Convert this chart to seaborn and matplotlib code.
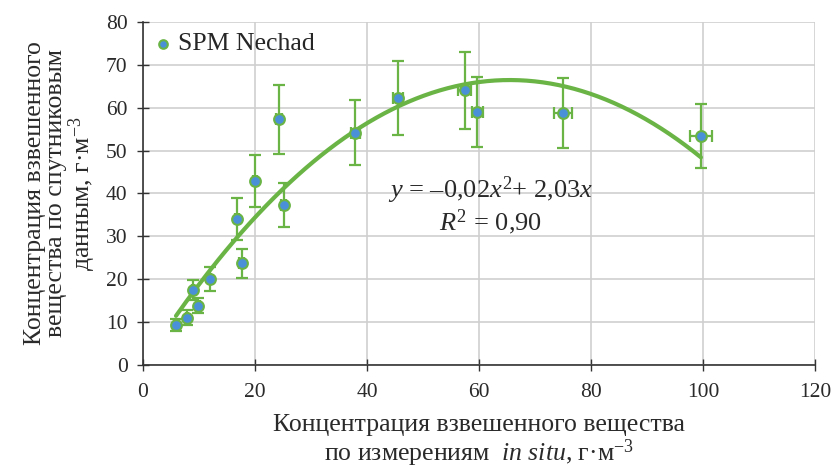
import numpy as np
import pandas as pd
import matplotlib
matplotlib.use("Agg")
import matplotlib.pyplot as plt
import seaborn as sns

# Data
x_insitu = [5.9, 7.9, 9.0, 9.9, 12.0, 16.8, 17.6, 20.0, 24.3, 25.1, 37.9, 45.6, 57.4, 59.7, 74.9, 99.6]
y_sat = [9.3, 11.0, 17.5, 13.8, 20.0, 34.1, 23.7, 42.9, 57.3, 37.3, 54.2, 62.3, 64.1, 59.0, 58.8, 53.4]
y_err = [1.3, 1.7, 2.3, 1.8, 2.8, 4.9, 3.4, 6.0, 8.1, 5.2, 7.6, 8.7, 9.0, 8.2, 8.2, 7.4]
x_err = [0.1, 0.2, 0.2, 0.2, 0.2, 0.3, 0.4, 0.4, 0.5, 0.5, 0.8, 0.9, 1.2, 1.0, 1.6, 2.0]
trend_a = -0.0155
trend_b = 2.03
series_name = "SPM Nechad"
x_ticks = [0, 20, 40, 60, 80, 100, 120]
y_ticks = [0, 10, 20, 30, 40, 50, 60, 70, 80]

GREEN = "#6AB446"
BLUE = "#4A90D9"
TXT = "#2a2a2a"

sns.set_style("whitegrid")
plt.rcParams["font.family"] = ["Liberation Serif", "DejaVu Serif"]
plt.rcParams["mathtext.fontset"] = "custom"
plt.rcParams["mathtext.rm"] = "Liberation Serif"
plt.rcParams["mathtext.it"] = "Liberation Serif:italic"

fig = plt.figure(figsize=(8.31, 4.69), dpi=100)
ax = fig.add_axes([0.172, 0.222, 0.809, 0.731])

df = pd.DataFrame({"x": x_insitu, "y": y_sat})
xs = np.linspace(min(x_insitu), max(x_insitu), 200)
trend = pd.DataFrame({"x": xs, "y": trend_a * xs**2 + trend_b * xs})

sns.lineplot(data=trend, x="x", y="y", ax=ax, color=GREEN, lw=3, zorder=2)
ax.errorbar(x_insitu, y_sat, yerr=y_err, xerr=x_err, fmt="none", ecolor=GREEN,
            elinewidth=1.6, capsize=4, capthick=1.6, zorder=3)
sns.scatterplot(data=df, x="x", y="y", ax=ax, color=BLUE, edgecolor=GREEN,
                linewidth=1.5, s=60, zorder=4, label=series_name)

ax.set_xlim(0, 120)
ax.set_ylim(0, 80)
ax.set_xticks(x_ticks)
ax.set_yticks(y_ticks)
ax.grid(True, color="#cfcfcf", lw=1.2)
for s in ["top", "right"]:
    ax.spines[s].set_visible(False)
for s in ["left", "bottom"]:
    ax.spines[s].set_color("#333333")
    ax.spines[s].set_linewidth(1.2)
ax.tick_params(direction="inout", length=8, width=1, colors="#333333",
               labelsize=15.5, labelcolor=TXT, left=True, bottom=True)
ax.tick_params(axis="x", pad=9)
ax.tick_params(axis="y", pad=7)
ax.set_xlabel("Концентрация взвешенного вещества\nпо измерениям  $\\mathit{in\\ situ}$, г·м$^{-3}$",
              fontsize=18.5, color=TXT, labelpad=9, linespacing=1.05)
ax.set_ylabel("Концентрация взвешенного\nвещества по спутниковым\nданным, г·м$^{-3}$",
              fontsize=18.5, color=TXT, labelpad=6, linespacing=0.95)

ax.text(62, 40.8, "$y$ = –0,02$x^2$+ 2,03$x$", fontsize=19, ha="center", va="center", color=TXT)
ax.text(62, 33.3, "$R^2$ = 0,90", fontsize=19, ha="center", va="center", color=TXT)

leg = ax.legend(loc="upper left", frameon=False, fontsize=18.5, handletextpad=0.15,
                handlelength=0.8, borderaxespad=0.0, markerscale=0.8,
                bbox_to_anchor=(0.0, 1.0))

fig.savefig("out.png", dpi=100)
